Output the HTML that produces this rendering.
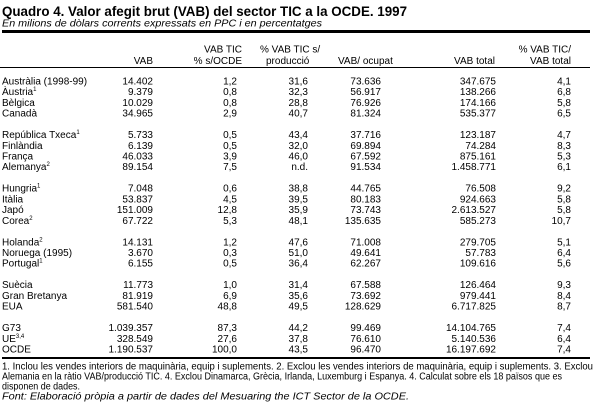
<!DOCTYPE html>
<html><head><meta charset="utf-8"><style>
html,body{margin:0;padding:0;background:#fff;}
svg{display:block;}
text{font-family:"Liberation Sans",sans-serif;fill:#000;}
.t{font-size:10px;}
</style></head><body>
<svg width="600" height="409" viewBox="0 0 600 409" xmlns="http://www.w3.org/2000/svg">
<text x="2" y="16" font-size="14" font-weight="bold" textLength="405" lengthAdjust="spacingAndGlyphs">Quadro 4. Valor afegit brut (VAB) del sector TIC a la OCDE. 1997</text>
<text x="2" y="26.5" font-size="10.5" font-style="italic" textLength="320" lengthAdjust="spacingAndGlyphs">En milions de dòlars corrents expressats en PPC i en percentatges</text>
<rect x="2" y="30" width="588" height="3" fill="#000"/>
<g class="t">
<text x="242" y="52.5" text-anchor="end">VAB TIC</text>
<text x="260" y="52.5">% VAB TIC s/</text>
<text x="571" y="52.5" text-anchor="end">% VAB TIC/</text>
<text x="153" y="64" text-anchor="end">VAB</text>
<text x="242" y="64" text-anchor="end">% s/OCDE</text>
<text x="266" y="64">producció</text>
<text x="338" y="64">VAB/ ocupat</text>
<text x="495" y="64" text-anchor="end">VAB total</text>
<text x="571" y="64" text-anchor="end">VAB total</text>
</g>
<rect x="0" y="67" width="590" height="1" fill="#000"/>
<g class="t">
<g transform="translate(0,84.5)"><text x="2">Austràlia (1998-99)</text><text x="153" text-anchor="end">14.402</text><text x="237" text-anchor="end">1,2</text><text x="308" text-anchor="end">31,6</text><text x="381" text-anchor="end">73.636</text><text x="496" text-anchor="end">347.675</text><text x="571" text-anchor="end">4,1</text></g>
<g transform="translate(0,95.2)"><text x="2">Àustria<tspan font-size="6" dy="-4">1</tspan></text><text x="153" text-anchor="end">9.379</text><text x="237" text-anchor="end">0,8</text><text x="308" text-anchor="end">32,3</text><text x="381" text-anchor="end">56.917</text><text x="496" text-anchor="end">138.266</text><text x="571" text-anchor="end">6,8</text></g>
<g transform="translate(0,105.9)"><text x="2">Bèlgica</text><text x="153" text-anchor="end">10.029</text><text x="237" text-anchor="end">0,8</text><text x="308" text-anchor="end">28,8</text><text x="381" text-anchor="end">76.926</text><text x="496" text-anchor="end">174.166</text><text x="571" text-anchor="end">5,8</text></g>
<g transform="translate(0,116.6)"><text x="2">Canadà</text><text x="153" text-anchor="end">34.965</text><text x="237" text-anchor="end">2,9</text><text x="308" text-anchor="end">40,7</text><text x="381" text-anchor="end">81.324</text><text x="496" text-anchor="end">535.377</text><text x="571" text-anchor="end">6,5</text></g>

<g transform="translate(0,138.1)"><text x="2">República Txeca<tspan font-size="6" dy="-4">1</tspan></text><text x="153" text-anchor="end">5.733</text><text x="237" text-anchor="end">0,5</text><text x="308" text-anchor="end">43,4</text><text x="381" text-anchor="end">37.716</text><text x="496" text-anchor="end">123.187</text><text x="571" text-anchor="end">4,7</text></g>
<g transform="translate(0,148.8)"><text x="2">Finlàndia</text><text x="153" text-anchor="end">6.139</text><text x="237" text-anchor="end">0,5</text><text x="308" text-anchor="end">32,0</text><text x="381" text-anchor="end">69.894</text><text x="496" text-anchor="end">74.284</text><text x="571" text-anchor="end">8,3</text></g>
<g transform="translate(0,159.5)"><text x="2">França</text><text x="153" text-anchor="end">46.033</text><text x="237" text-anchor="end">3,9</text><text x="308" text-anchor="end">46,0</text><text x="381" text-anchor="end">67.592</text><text x="496" text-anchor="end">875.161</text><text x="571" text-anchor="end">5,3</text></g>
<g transform="translate(0,170.2)"><text x="2">Alemanya<tspan font-size="6" dy="-4">2</tspan></text><text x="153" text-anchor="end">89.154</text><text x="237" text-anchor="end">7,5</text><text x="308" text-anchor="end">n.d.</text><text x="381" text-anchor="end">91.534</text><text x="496" text-anchor="end">1.458.771</text><text x="571" text-anchor="end">6,1</text></g>

<g transform="translate(0,191.7)"><text x="2">Hungria<tspan font-size="6" dy="-4">1</tspan></text><text x="153" text-anchor="end">7.048</text><text x="237" text-anchor="end">0,6</text><text x="308" text-anchor="end">38,8</text><text x="381" text-anchor="end">44.765</text><text x="496" text-anchor="end">76.508</text><text x="571" text-anchor="end">9,2</text></g>
<g transform="translate(0,202.4)"><text x="2">Itàlia</text><text x="153" text-anchor="end">53.837</text><text x="237" text-anchor="end">4,5</text><text x="308" text-anchor="end">39,5</text><text x="381" text-anchor="end">80.183</text><text x="496" text-anchor="end">924.663</text><text x="571" text-anchor="end">5,8</text></g>
<g transform="translate(0,213.1)"><text x="2">Japó</text><text x="153" text-anchor="end">151.009</text><text x="237" text-anchor="end">12,8</text><text x="308" text-anchor="end">35,9</text><text x="381" text-anchor="end">73.743</text><text x="496" text-anchor="end">2.613.527</text><text x="571" text-anchor="end">5,8</text></g>
<g transform="translate(0,223.8)"><text x="2">Corea<tspan font-size="6" dy="-4">2</tspan></text><text x="153" text-anchor="end">67.722</text><text x="237" text-anchor="end">5,3</text><text x="308" text-anchor="end">48,1</text><text x="381" text-anchor="end">135.635</text><text x="496" text-anchor="end">585.273</text><text x="571" text-anchor="end">10,7</text></g>

<g transform="translate(0,245.3)"><text x="2">Holanda<tspan font-size="6" dy="-4">2</tspan></text><text x="153" text-anchor="end">14.131</text><text x="237" text-anchor="end">1,2</text><text x="308" text-anchor="end">47,6</text><text x="381" text-anchor="end">71.008</text><text x="496" text-anchor="end">279.705</text><text x="571" text-anchor="end">5,1</text></g>
<g transform="translate(0,256)"><text x="2">Noruega (1995)</text><text x="153" text-anchor="end">3.670</text><text x="237" text-anchor="end">0,3</text><text x="308" text-anchor="end">51,0</text><text x="381" text-anchor="end">49.641</text><text x="496" text-anchor="end">57.783</text><text x="571" text-anchor="end">6,4</text></g>
<g transform="translate(0,266.7)"><text x="2">Portugal<tspan font-size="6" dy="-4">1</tspan></text><text x="153" text-anchor="end">6.155</text><text x="237" text-anchor="end">0,5</text><text x="308" text-anchor="end">36,4</text><text x="381" text-anchor="end">62.267</text><text x="496" text-anchor="end">109.616</text><text x="571" text-anchor="end">5,6</text></g>

<g transform="translate(0,288.2)"><text x="2">Suècia</text><text x="153" text-anchor="end">11.773</text><text x="237" text-anchor="end">1,0</text><text x="308" text-anchor="end">31,4</text><text x="381" text-anchor="end">67.588</text><text x="496" text-anchor="end">126.464</text><text x="571" text-anchor="end">9,3</text></g>
<g transform="translate(0,298.9)"><text x="2">Gran Bretanya</text><text x="153" text-anchor="end">81.919</text><text x="237" text-anchor="end">6,9</text><text x="308" text-anchor="end">35,6</text><text x="381" text-anchor="end">73.692</text><text x="496" text-anchor="end">979.441</text><text x="571" text-anchor="end">8,4</text></g>
<g transform="translate(0,309.6)"><text x="2">EUA</text><text x="153" text-anchor="end">581.540</text><text x="237" text-anchor="end">48,8</text><text x="308" text-anchor="end">49,5</text><text x="381" text-anchor="end">128.629</text><text x="496" text-anchor="end">6.717.825</text><text x="571" text-anchor="end">8,7</text></g>

<g transform="translate(0,331.1)"><text x="2">G73</text><text x="153" text-anchor="end">1.039.357</text><text x="237" text-anchor="end">87,3</text><text x="308" text-anchor="end">44,2</text><text x="381" text-anchor="end">99.469</text><text x="496" text-anchor="end">14.104.765</text><text x="571" text-anchor="end">7,4</text></g>
<g transform="translate(0,341.8)"><text x="2">UE<tspan font-size="6" dy="-4">3,4</tspan></text><text x="153" text-anchor="end">328.549</text><text x="237" text-anchor="end">27,6</text><text x="308" text-anchor="end">37,8</text><text x="381" text-anchor="end">76.610</text><text x="496" text-anchor="end">5.140.536</text><text x="571" text-anchor="end">6,4</text></g>
<g transform="translate(0,352.5)"><text x="2">OCDE</text><text x="153" text-anchor="end">1.190.537</text><text x="237" text-anchor="end">100,0</text><text x="308" text-anchor="end">43,5</text><text x="381" text-anchor="end">96.470</text><text x="496" text-anchor="end">16.197.692</text><text x="571" text-anchor="end">7,4</text></g>
</g>
<rect x="2" y="357" width="588" height="2" fill="#000"/>
<g class="t">
<text x="2" y="369.5" textLength="591" lengthAdjust="spacingAndGlyphs">1. Inclou les vendes interiors de maquinària, equip i suplements. 2. Exclou les vendes interiors de maquinària, equip i suplements. 3. Exclou</text>
<text x="2" y="379.5" textLength="560" lengthAdjust="spacingAndGlyphs">Alemania en la ràtio VAB/producció TIC. 4. Exclou Dinamarca, Grècia, Irlanda, Luxemburg i Espanya. 4. Calculat sobre els 18 països que es</text>
<text x="2" y="389.5" textLength="78" lengthAdjust="spacingAndGlyphs">disponen de dades.</text>
<text x="2" y="399.5" font-style="italic" textLength="407" lengthAdjust="spacingAndGlyphs">Font: Elaboració pròpia a partir de dades del Mesuaring the ICT Sector de la OCDE.</text>
</g>
</svg>
</body></html>
